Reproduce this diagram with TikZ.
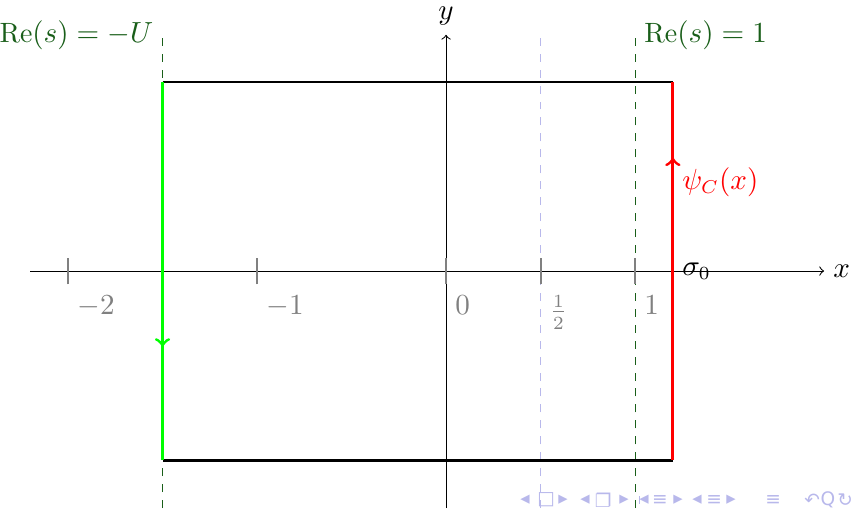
\documentclass[tikz,border=0pt]{standalone}
\usepackage{fontspec}
\newfontfamily\navfont{DejaVu Sans}
\usetikzlibrary{decorations.markings}
\definecolor{darkgr}{rgb}{0.1,0.37,0.1}
\definecolor{navblue}{rgb}{0.72,0.72,0.92}
\begin{document}
\begin{tikzpicture}[x=2.5cm,y=2.5cm,
  every node/.style={font=\fontsize{10.5}{13}\selectfont},
  axisline/.style={->,>=to,black,line width=0.4pt},
  tickmark/.style={gray,line width=0.8pt},
  ticklab/.style={gray,anchor=north west},
  guide/.style={dashed,darkgr,line width=0.4pt},
  halfguide/.style={dashed,navblue,line width=0.4pt},
  edgeline/.style={black,line width=1.1pt},
  contour/.style={line width=1.1pt,postaction={decorate}},
  navsym/.style={navblue,font=\navfont\fontsize{7}{8}\selectfont,inner sep=0pt}]
\useasboundingbox (-2.360,-1.254) rectangle (2.153,1.434);
% coordinates
\coordinate (A) at (-1.5,1);
\coordinate (B) at (1.2,1);
\coordinate (C) at (1.2,-1);
\coordinate (D) at (-1.5,-1);
\coordinate (xs) at (-2.2,0);
\coordinate (xe) at (2,0);
\coordinate (ys) at (0,-1.254);
\coordinate (ye) at (0,1.25);
\coordinate (gUt) at (-1.5,1.25);
\coordinate (gUb) at (-1.5,-1.254);
\coordinate (g1t) at (1,1.25);
\coordinate (g1b) at (1,-1.254);
\coordinate (hht) at (0.5,1.25);
\coordinate (hhb) at (0.5,-1.254);
% guide lines
\draw[halfguide] (hhb) -- (hht);
\draw[guide] (gUb) -- (gUt);
\draw[guide] (g1b) -- (g1t);
\node[darkgr,left] (reU) at (gUt) {$\mathrm{Re}(s)=-U$};
\node[darkgr,right] (re1) at (g1t) {$\mathrm{Re}(s)=1$};
% axes
\draw[axisline] (xs) -- (xe) node[right] (xlab) {$x$};
\draw[axisline] (ys) -- (ye) node[above] (ylab) {$y$};
% ticks
\foreach \t/\l/\n in {-2/{-2}/tm2,-1/{-1}/tm1,0/{0}/t0,0.5/{\frac12}/th,1/{1}/t1}{
  \draw[tickmark] (\t,-0.07) -- (\t,0.07);
  \node[ticklab] (\n) at (\t,-0.08) {$\l$};
}
% rectangle
\draw[edgeline] (A) -- (B);
\draw[edgeline] (D) -- (C);
\draw[green,contour,decoration={markings,mark=at position 0.7 with {\arrow{>}}}] (A) -- (D);
\draw[red,contour,decoration={markings,mark=at position 0.8 with {\arrow{>}}}] (C) -- (B);
\node[red,right] (psi) at (1.2,0.47) {$\psi_C(x)$};
\node[right] (sig) at (1.2,0) {$\sigma_0$};
% navigation symbols
\foreach \p/\g [count=\i] in {0.418/◂,0.529/□,0.619/▸,0.735/◂,0.831/❐,0.942/▸,
   1.048/◂,1.132/≡,1.228/▸,1.328/◂,1.418/≡,1.508/▸,1.730/≡,1.937/↶,2.021/Q,2.111/↻}{
  \node[navsym] (nav\i) at (\p,-1.212) {\g};
}
\draw[navblue,line width=0.5pt] (1.025,-1.19) -- (1.025,-1.234);
\end{tikzpicture}
\end{document}
